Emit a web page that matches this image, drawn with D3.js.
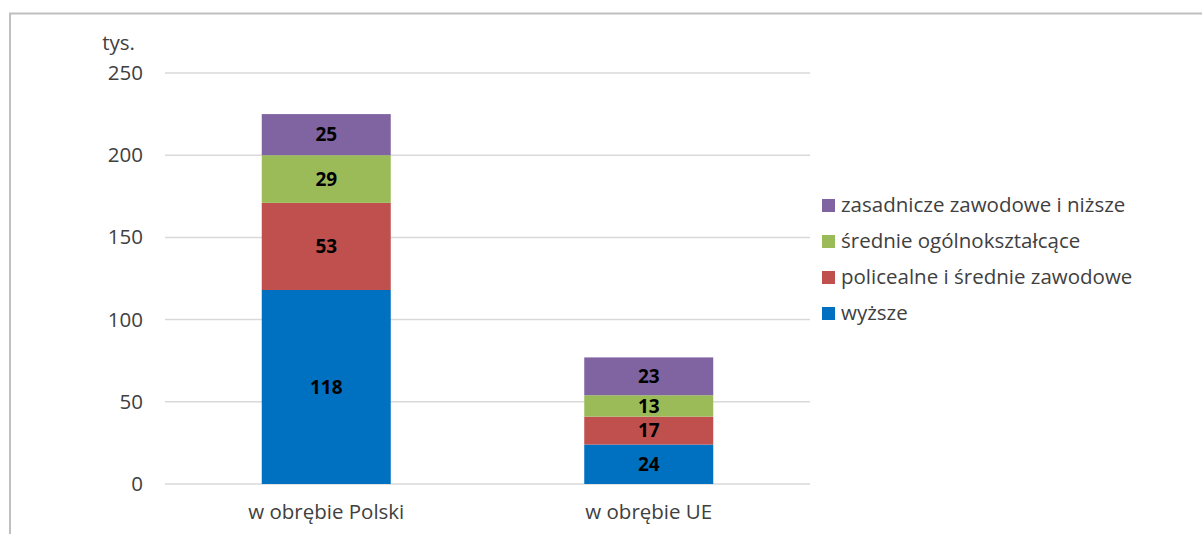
<!DOCTYPE html>
<html>
<head>
<meta charset="utf-8">
<script src="https://cdn.jsdelivr.net/npm/d3@7"></script>
<style>
  body { margin: 0; background: #fff; }
  svg { font-family: "Open Sans", "Noto Sans", sans-serif; }
</style>
</head>
<body>
<svg id="chart"></svg>
<script>
// categories and series (tys.)
const categories = ["w obrębie Polski", "w obrębie UE"];
const seriesNames = ["wyższe", "policealne i średnie zawodowe", "średnie ogólnokształcące", "zasadnicze zawodowe i niższe"];
const wyzsze = [118, 24];
const policealne = [53, 17];
const srednieOgolne = [29, 13];
const zasadnicze = [25, 23];
const yTicks = [0, 50, 100, 150, 200, 250];
const colors = ["#0070c0", "#c0504d", "#9bbb59", "#8064a2"];

const width = 1202, height = 534;
const margin = {top: 73, right: 392, bottom: 50, left: 165};
const fontSize = 20.5;

const svg = d3.select("#chart").attr("width", width).attr("height", height);

// outer frame of the chart
svg.append("path")
    .attr("d", `M10,${height} L10,13.5 L${width},13.5`)
    .attr("fill", "none")
    .attr("stroke", "#bfbfbf")
    .attr("stroke-width", 2);

const innerW = width - margin.left - margin.right;
const innerH = height - margin.top - margin.bottom;

const chart = svg.append("g").attr("transform", `translate(${margin.left},${margin.top})`);

const x = d3.scaleBand().domain(categories).range([0, innerW]).paddingInner(0.6).paddingOuter(0.3);
const y = d3.scaleLinear().domain([0, 250]).range([innerH, 0]);

// gridlines
chart.selectAll(".grid")
    .data(yTicks)
    .join("line")
    .attr("class", "grid")
    .attr("x1", 0).attr("x2", innerW)
    .attr("y1", d => y(d)).attr("y2", d => y(d))
    .attr("stroke", "#d9d9d9")
    .attr("stroke-width", 1.5);

// y axis labels
const yAxis = d3.axisLeft(y).tickValues(yTicks).tickSize(0).tickPadding(22);
chart.append("g").call(yAxis)
    .call(g => g.select(".domain").remove())
    .call(g => g.selectAll("text").attr("font-size", fontSize).attr("fill", "#404040").attr("font-family", "Open Sans, sans-serif"));

svg.append("text")
    .attr("x", 135).attr("y", 50)
    .attr("text-anchor", "end")
    .attr("font-size", fontSize)
    .attr("fill", "#404040")
    .text("tys.");

// stacked data
const table = categories.map((c, i) => ({
    cat: c,
    "wyższe": wyzsze[i],
    "policealne i średnie zawodowe": policealne[i],
    "średnie ogólnokształcące": srednieOgolne[i],
    "zasadnicze zawodowe i niższe": zasadnicze[i]
}));
const stacked = d3.stack().keys(seriesNames)(table);

const layers = chart.selectAll(".layer")
    .data(stacked)
    .join("g")
    .attr("class", "layer")
    .attr("fill", (d, i) => colors[i]);

layers.selectAll("rect")
    .data(d => d)
    .join("rect")
    .attr("x", d => x(d.data.cat))
    .attr("width", x.bandwidth())
    .attr("y", d => y(d[1]))
    .attr("height", d => y(d[0]) - y(d[1]));

layers.selectAll(".val")
    .data(d => d)
    .join("text")
    .attr("class", "val")
    .attr("x", d => x(d.data.cat) + x.bandwidth() / 2)
    .attr("y", d => (y(d[0]) + y(d[1])) / 2)
    .attr("dy", "0.36em")
    .attr("text-anchor", "middle")
    .attr("font-size", 19)
    .attr("font-weight", "bold")
    .attr("fill", "#000")
    .text(d => d[1] - d[0]);

// x axis labels
const xAxis = d3.axisBottom(x).tickSize(0).tickPadding(20);
chart.append("g").attr("transform", `translate(0,${innerH})`).call(xAxis)
    .call(g => g.select(".domain").remove())
    .call(g => g.selectAll("text").attr("font-size", fontSize).attr("fill", "#404040").attr("font-family", "Open Sans, sans-serif"));

// legend (reverse order, top is last series)
const legend = svg.append("g").attr("transform", "translate(822,205)");
const legendItems = seriesNames.slice().reverse();
const li = legend.selectAll("g")
    .data(legendItems)
    .join("g")
    .attr("transform", (d, i) => `translate(0,${i * 36})`);
li.append("rect")
    .attr("x", 0).attr("y", -6)
    .attr("width", 13).attr("height", 13)
    .attr("fill", d => colors[seriesNames.indexOf(d)]);
li.append("text")
    .attr("x", 19).attr("dy", "0.35em")
    .attr("font-size", fontSize)
    .attr("fill", "#404040")
    .text(d => d);
</script>
</body>
</html>
